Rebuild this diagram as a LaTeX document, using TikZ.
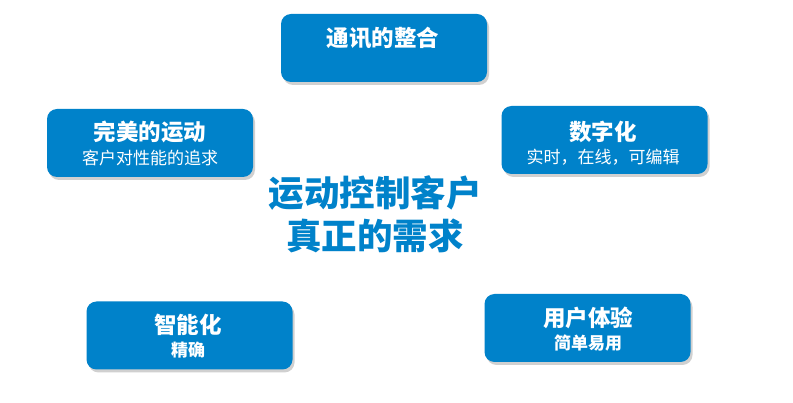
\documentclass[tikz,border=0pt]{standalone}
\usepackage{fontspec}
\newfontfamily\cjk{Noto Sans CJK SC}
\usetikzlibrary{shadows}
\definecolor{boxblue}{RGB}{0,130,202}
\begin{document}
\begin{tikzpicture}[x=1pt,y=-1pt,
  box/.style={draw=none,fill=boxblue,rounded corners=10pt,minimum width=206pt,minimum height=68pt,inner sep=0pt,
    drop shadow={shadow xshift=2pt,shadow yshift=-3pt,opacity=0.3,fill=black!60}},
  title/.style={text=white,font=\cjk\bfseries\fontsize{22.5pt}{26pt}\selectfont,inner sep=0pt},
  subr/.style={text=white,font=\cjk\fontsize{17pt}{20pt}\selectfont,inner sep=0pt},
  subb/.style={text=white,font=\cjk\bfseries\fontsize{17pt}{20pt}\selectfont,inner sep=0pt},
  centre/.style={text=boxblue,font=\cjk\bfseries\fontsize{35.5pt}{43pt}\selectfont,align=center,inner sep=0pt}]
\useasboundingbox[fill=white] (0,0) rectangle (793,403);
% boxes
\node[box] (b1) at (384,48) {};
\node[box] (b2) at (150,143) {};
\node[box] (b3) at (604.5,140) {};
\node[box] (b4) at (189.5,335.5) {};
\node[box] (b5) at (587.5,328) {};
% texts
\node[title] (t1) at (383,38) {通讯的整合};
\node[title] (t2) at (150,132) {完美的运动};
\node[subr] (s2) at (150,158) {客户对性能的追求};
\node[title] (t3) at (603,132) {数字化};
\node[subr] (s3) at (603,157) {实时，在线，可编辑};
\node[title] (t4) at (188,325) {智能化};
\node[subb] (s4) at (188,350) {精确};
\node[title] (t5) at (588,318) {用户体验};
\node[subb] (s5) at (588,343) {简单易用};
\node[centre] (c) at (375,214) {运动控制客户\\真正的需求};
\end{tikzpicture}
\end{document}
